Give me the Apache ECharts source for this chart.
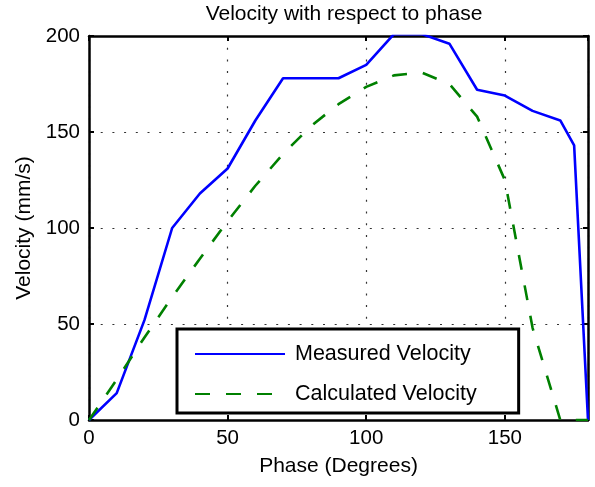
<!DOCTYPE html>
<html>
<head>
<meta charset="utf-8">
<script src="https://cdn.jsdelivr.net/npm/echarts@6/dist/echarts.min.js"></script>
<style>
  html, body { margin: 0; padding: 0; background: #fff; }
  #chart { width: 595px; height: 487px; }
</style>
</head>
<body>
<div id="chart"></div>
<script>
// phase (degrees) and velocity (mm/s)
const measuredPhase = [0, 10, 20, 30, 40, 50, 60, 70, 80, 90, 100, 110, 120, 130, 140, 150, 160, 170, 175, 180];
const measuredVelocity = [0, 14, 52, 100, 118, 131, 156, 178, 178, 178, 185, 201, 201, 196, 172, 169, 161, 156, 143, 0];
const calcPhase = [0, 10, 20, 30, 40, 50, 60, 70, 80, 90, 100, 110, 120, 130, 140, 150, 160, 170, 180];
const calcVelocity = [0, 21, 43, 64, 84, 103.5, 122, 138.5, 153, 164.5, 173.5, 179.5, 181, 175, 158, 125, 48, 0, 0];

const font = "Liberation Sans, Arial, Helvetica, sans-serif";

const chart = echarts.init(document.getElementById("chart"));

// 把两组数组拼成 [x, y]
const pairs = (xs, ys) => xs.map((x, i) => [x, ys[i]]);

const gridDots = { show: true, lineStyle: { color: "#333", width: 1.2, type: [2, 9.7] } };
const boxLine = { onZero: false, lineStyle: { color: "#000", width: 2.5 } };
const boxTick = { show: true, inside: true, length: 5, lineStyle: { color: "#000", width: 2 } };

const option = {
  animation: false,
  backgroundColor: "#fff",
  title: {
    text: "Velocity with respect to phase",
    left: 339,
    top: -1,
    textAlign: "center",
    textStyle: { fontFamily: font, fontSize: 21, fontWeight: "normal", color: "#000" },
  },
  grid: { left: 89, right: 7, top: 36, bottom: 67 },
  legend: {
    orient: "vertical",
    left: 177,
    top: 329,
    padding: [14, 42, 8, 17],
    itemWidth: 90,
    itemHeight: 21,
    itemGap: 18,
    borderColor: "#000",
    borderWidth: 3,
    backgroundColor: "#fff",
    itemStyle: { opacity: 0 },
    textStyle: { fontFamily: font, fontSize: 21.5, color: "#000", padding: [0, 0, 0, 5] },
    data: ["Measured Velocity", "Calculated Velocity"],
  },
  xAxis: [
    {
      type: "value",
      min: 0,
      max: 180,
      interval: 50,
      name: "Phase (Degrees)",
      nameLocation: "middle",
      nameGap: 36,
      nameTextStyle: { fontFamily: font, fontSize: 21, color: "#000" },
      axisLine: boxLine,
      axisTick: boxTick,
      axisLabel: { fontFamily: font, fontSize: 20.5, color: "#000", margin: 8, showMaxLabel: false },
      splitLine: gridDots,
    },
    {
      type: "value",
      position: "top",
      min: 0,
      max: 180,
      interval: 50,
      axisLine: boxLine,
      axisTick: boxTick,
      axisLabel: { show: false },
      splitLine: { show: false },
    },
  ],
  yAxis: [
    {
      type: "value",
      min: 0,
      max: 200,
      interval: 50,
      name: "Velocity (mm/s)",
      nameLocation: "middle",
      nameGap: 53,
      nameTextStyle: { fontFamily: font, fontSize: 21, color: "#000" },
      axisLine: { show: true, ...boxLine },
      axisTick: boxTick,
      axisLabel: { fontFamily: font, fontSize: 20.5, color: "#000", margin: 9 },
      splitLine: gridDots,
    },
    {
      type: "value",
      position: "right",
      min: 0,
      max: 200,
      interval: 50,
      axisLine: { show: true, ...boxLine },
      axisTick: boxTick,
      axisLabel: { show: false },
      splitLine: { show: false },
    },
  ],
  series: [
    {
      name: "Measured Velocity",
      type: "line",
      symbol: "none",
      clip: true,
      data: pairs(measuredPhase, measuredVelocity),
      lineStyle: { color: "#0000ff", width: 2.6 },
      itemStyle: { color: "#0000ff" },
    },
    {
      name: "Calculated Velocity",
      type: "line",
      symbol: "none",
      clip: true,
      data: pairs(calcPhase, calcVelocity),
      lineStyle: { color: "#008000", width: 2.6, type: [15, 16] },
      itemStyle: { color: "#008000" },
    },
  ],
};

chart.setOption(option);
</script>
</body>
</html>
